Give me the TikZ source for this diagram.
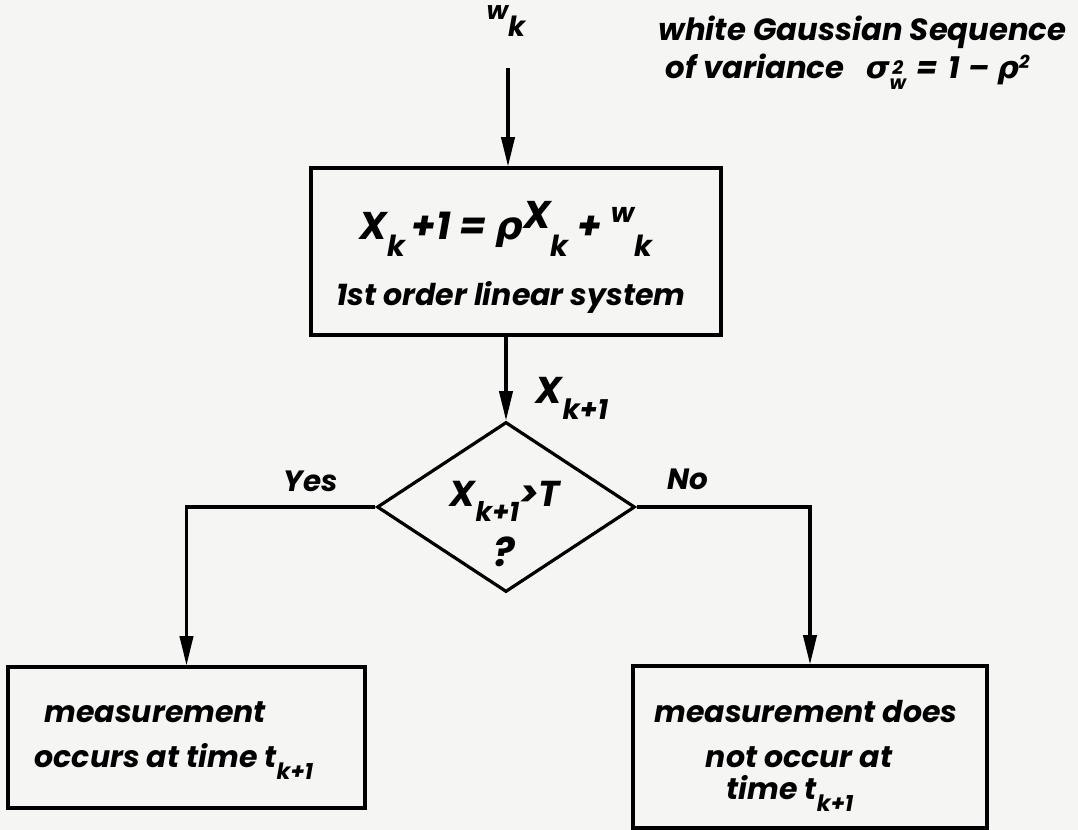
\documentclass[tikz,border=0pt]{standalone}
\usepackage{graphicx}
\usepackage{fontspec}
\setmainfont{Poppins}
\newfontfamily\gk{DejaVu Sans}
\usetikzlibrary{arrows.meta,shapes.geometric,calc}
\definecolor{paper}{RGB}{245,245,243}
\newcommand\lsub[1]{\raisebox{-0.42em}{\scalebox{0.75}{#1}}}
\newcommand\lsup[1]{\raisebox{0.45em}{\scalebox{0.7}{#1}}}
\newcommand\fs[1]{\bfseries\itshape\fontsize{#1}{#1}\selectfont}
\begin{document}
\begin{tikzpicture}[x=0.75pt,y=-0.75pt,line width=2.4pt,
  box/.style={draw,rectangle,inner sep=0pt},
  arr/.style={-{Triangle[length=22pt,width=10pt]}},
  txt/.style={inner sep=0pt,anchor=base}]
\fill[paper] (0,0) rectangle (1078,830);
\useasboundingbox (0,0) rectangle (1078,830);
% input label and note
\node[txt,font=\fs{26}] (wk) at (506,35)
  {\raisebox{0.45em}{\scalebox{0.72}{w}}\raisebox{-0.05em}{\scalebox{0.8}{k}}};
\coordinate (wtop) at (508,68);
\node[txt,anchor=base east,font=\fs{23}] (note1) at (1068,41) {white Gaussian Sequence};
\node[txt,anchor=base west,font=\fs{23}] (note2) at ($(note1.base west)+(7,38)$)
  {of variance\hspace{0.7em}{\gk σ}\raisebox{-0.12em}{\scalebox{0.62}{\begin{tabular}{@{}c@{}}2\\[-5pt]w\end{tabular}}}\hspace{0.35em}=\hspace{0.35em}1\hspace{0.25em}–\hspace{0.25em}{\gk ρ}\raisebox{0.35em}{\scalebox{0.6}{2}}};
% system box
\node[box,minimum width=307.5pt,minimum height=125.25pt] (sys) at (516,251.5) {};
\node[txt,font=\fs{29}] (eq) at (506,240)
  {X\lsub{k}\,+1 = {\gk ρ}\raisebox{0.3em}{X}\lsub{k} + \lsup{w}\lsub{k}};
\node[txt,font=\fs{22.5}] (sysname) at (511,306) {1st order linear system};
\node[txt,font=\fs{28}] (xk) at (572,404) {X\lsub{k+1}};
% decision
\node[draw,diamond,minimum width=193.5pt,minimum height=127.5pt,inner sep=0pt] (dia) at (506,507) {};
\node[txt,font=\fs{27}] (cond) at (505,506) {X\lsub{k+1}>T};
\node[txt,font=\fs{30}] (q) at (504,566) {?};
\node[txt,font=\fs{22}] (yes) at (311,491) {Yes};
\node[txt,font=\fs{22}] (no) at (688,489) {No};
% outcome boxes
\node[box,minimum width=267.75pt,minimum height=105.75pt] (occ) at (186.5,737.5) {};
\node[txt,anchor=base west,font=\fs{22.5}] (occ1) at (43,722) {measurement};
\node[txt,anchor=base west,font=\fs{22.5}] (occ2) at (33,767) {occurs at time t\lsub{k+1}};
\node[box,minimum width=265.5pt,minimum height=121.5pt] (nocc) at (810,747) {};
\node[txt,font=\fs{22.5}] (nocc1) at (806,722) {measurement does};
\node[txt,font=\fs{22.5}] (nocc2) at (799,767) {not occur at};
\node[txt,font=\fs{22.5}] (nocc3) at (790,799) {time t\lsub{k+1}};
% connectors
\draw[arr] (wtop) -- (wtop |- sys.north);
\draw[arr] (sys.south -| dia.north) -- (dia.north);
\draw[arr] (dia.west) -- (dia.west -| occ.north) -- (occ.north);
\draw[arr] (dia.east) -- (dia.east -| nocc.north) -- (nocc.north);
\end{tikzpicture}
\end{document}
